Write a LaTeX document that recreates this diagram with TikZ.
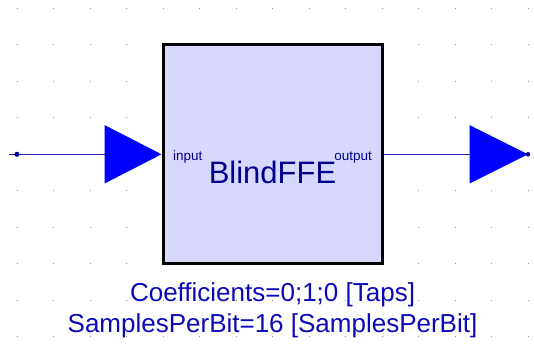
\documentclass[tikz,border=0pt]{standalone}
\usepackage{fontspec}
\setmainfont{Liberation Sans}
\usepackage{tikz}

\definecolor{boxfill}{RGB}{216,216,255}
\definecolor{portblue}{RGB}{0,0,255}
\definecolor{wireblue}{RGB}{35,35,185}
\definecolor{labelnavy}{RGB}{0,0,140}
\definecolor{parblue}{RGB}{10,10,185}
\definecolor{griddot}{RGB}{140,140,140}

\tikzset{
  ffebox/.style={draw=black, line width=2.25pt, fill=boxfill, minimum size=164.25pt, inner sep=0pt},
  wire/.style={draw=wireblue, line width=1pt},
  pinlbl/.style={inner sep=0pt, text=labelnavy, font=\fontsize{10.1}{12}\selectfont},
  parlbl/.style={inner sep=0pt, anchor=base, text=parblue, font=\fontsize{19.5}{23}\selectfont}
}

\begin{document}
\begin{tikzpicture}[x=27.375pt, y=27.375pt]

\useasboundingbox (-0.466,-5.197) rectangle (14.164,4.227);

% Grid
\foreach \i in {0,...,14}
  \foreach \j in {-5,...,4}
    \fill[griddot] (\i,\j) ++(-0.375pt,-0.375pt) rectangle ++(0.75pt,0.75pt);

% Block
\node[ffebox] (ffe) at (7,0) {};
\node[anchor=base, inner sep=0pt, text=labelnavy, font=\fontsize{23.25}{28}\selectfont] (name) at (7,-0.795) {BlindFFE};
\node[pinlbl, anchor=base west] (inlbl) at (4.27,-0.175) {input};
\node[pinlbl, anchor=base east] (outlbl) at (9.73,-0.175) {output};

% Input port
\coordinate (instub) at (-0.22,0);
\coordinate (indot) at (0,0);
\coordinate (inport) at (2.4,0);
\draw[wire] (instub) -- (inport);
\fill[portblue] (2.4,0.8) -- (ffe.west) -- (2.4,-0.8) -- cycle;
\fill[labelnavy] (indot) circle (1.9pt);

% Output port
\coordinate (outport) at (12.4,0);
\coordinate (outdot) at (14,0);
\draw[wire] (ffe.east) -- (outport);
\fill[portblue] (12.4,0.8) -- (outdot) -- (12.4,-0.8) -- cycle;
\fill[labelnavy] (outdot) circle (1.7pt);

% Parameters
\node[parlbl] (coef) at (7,-4.04) {Coefficients=0;1;0 [Taps]};
\node[parlbl] (spb) at (7,-4.89) {SamplesPerBit=16 [SamplesPerBit]};

\end{tikzpicture}
\end{document}
